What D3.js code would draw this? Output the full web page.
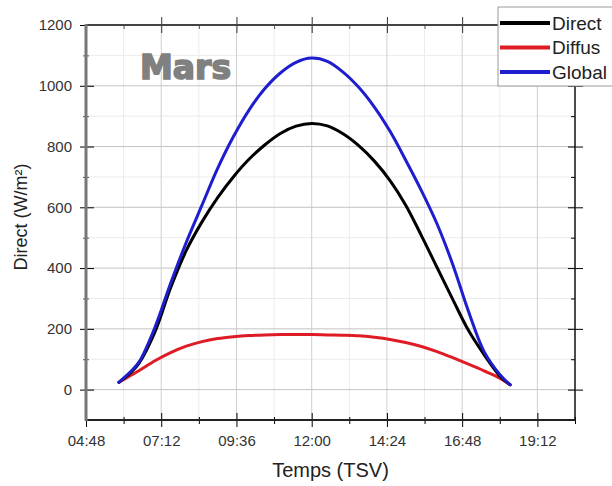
<!DOCTYPE html>
<html>
<head>
<meta charset="utf-8">
<script src="https://cdn.jsdelivr.net/npm/d3@7"></script>
<style>
  body { margin: 0; background: #fff; }
  svg { display: block; font-family: "Liberation Sans", Arial, sans-serif; }
</style>
</head>
<body>
<div id="chart"></div>
<script>
// solar time (decimal hours) and irradiance
const hours = [5.85, 6.25, 6.5, 7.0, 7.5, 8.0, 8.5, 9.0, 9.5, 10.0, 10.5, 11.0, 11.5, 12.0,
  12.5, 13.0, 13.5, 14.0, 14.5, 15.0, 15.5, 16.0, 16.5, 17.0, 17.5, 18.0, 18.33];
const direct = [24, 58, 88, 190, 335, 458, 552, 632, 700, 758, 805, 843, 867, 876,
  868, 842, 803, 752, 688, 607, 507, 402, 297, 195, 115, 45, 16];
const diffus = [24, 48, 63, 95, 122, 143, 158, 168, 174, 178, 180, 181, 181, 181,
  180, 179, 177, 172, 165, 155, 142, 125, 105, 84, 62, 38, 16];
const globalRad = [24, 62, 92, 205, 350, 485, 607, 728, 832, 920, 990, 1042, 1077, 1091,
  1080, 1045, 995, 930, 850, 755, 655, 545, 412, 258, 125, 50, 16];

const seriesNames = ["Direct", "Diffus", "Global"];
const xTickLabels = ["04:48", "07:12", "09:36", "12:00", "14:24", "16:48", "19:12"];
const yTicks = [0, 200, 400, 600, 800, 1000, 1200];
const monthLabel = "Mars";

const toHours = (s) => {
  let [h, m] = s.split(":").map(Number);
  return h + m / 60;
};

let width = 612,
  height = 486;

let frame = { left: 86, right: 575, top: 25, bottom: 420 },
  colors = { Direct: "#000000", Diffus: "#dd1c26", Global: "#1e1ecf" },
  tickColor = "#333";

const x = d3.scaleLinear().domain([4.8, 20.4]).range([frame.left, frame.right]);
const y = d3.scaleLinear().domain([-100, 1200]).range([frame.bottom, frame.top]);

const xMajor = xTickLabels.map(toHours);
const xMinor = xMajor.map(h => h + 1.2);
const yMinor = yTicks.slice(0, -1).map(v => v + 100);

const svg = d3.select("#chart")
  .append("svg")
  .attr("width", width)
  .attr("height", height);

// grid (minor first, then major)
const grid = svg.append("g");
grid.selectAll(".vminor").data(xMinor.filter(h => h < 20.4))
  .join("line")
  .attr("class", "vminor")
  .attr("x1", d => x(d)).attr("x2", d => x(d))
  .attr("y1", frame.top).attr("y2", frame.bottom)
  .attr("stroke", "#ebebeb");
grid.selectAll(".hminor").data(yMinor)
  .join("line")
  .attr("class", "hminor")
  .attr("x1", frame.left).attr("x2", frame.right)
  .attr("y1", d => y(d)).attr("y2", d => y(d))
  .attr("stroke", "#ebebeb");
grid.selectAll(".vmajor").data(xMajor.slice(1))
  .join("line")
  .attr("class", "vmajor")
  .attr("x1", d => x(d)).attr("x2", d => x(d))
  .attr("y1", frame.top).attr("y2", frame.bottom)
  .attr("stroke", "#cfcfcf");
grid.selectAll(".hmajor").data(yTicks.slice(0, -1))
  .join("line")
  .attr("class", "hmajor")
  .attr("x1", frame.left).attr("x2", frame.right)
  .attr("y1", d => y(d)).attr("y2", d => y(d))
  .attr("stroke", "#c4c4c4");

// curves
const series = [
  { name: "Diffus", values: diffus },
  { name: "Direct", values: direct },
  { name: "Global", values: globalRad },
];

const line = d3.line()
  .x((d, i) => x(hours[i]))
  .y(d => y(d))
  .curve(d3.curveCatmullRom.alpha(0.5));

svg.append("g")
  .selectAll("path")
  .data(series)
  .join("path")
  .attr("d", d => line(d.values))
  .attr("fill", "none")
  .attr("stroke", d => colors[d.name])
  .attr("stroke-width", 3)
  .attr("stroke-linejoin", "round")
  .attr("stroke-linecap", "round");

// axes: ticks cross the frame on all four sides
const bottomMajor = d3.axisBottom(x).tickValues(xMajor).tickSize(7)
  .tickFormat((d, i) => xTickLabels[i]);
const gBottom = svg.append("g")
  .attr("transform", `translate(0,${frame.bottom})`)
  .call(bottomMajor);
gBottom.selectAll(".tick line").attr("y1", -7);
gBottom.selectAll(".tick text")
  .attr("dy", "1.05em")
  .attr("fill", tickColor)
  .style("font-size", "15px");
gBottom.select(".domain").remove();

const gBottomMinor = svg.append("g")
  .attr("transform", `translate(0,${frame.bottom})`)
  .call(d3.axisBottom(x).tickValues(xMinor).tickSize(4).tickFormat(""));
gBottomMinor.selectAll(".tick line").attr("y1", -3);
gBottomMinor.select(".domain").remove();

const gLeft = svg.append("g")
  .attr("transform", `translate(${frame.left},0)`)
  .call(d3.axisLeft(y).tickValues(yTicks).tickSize(6).tickPadding(8).tickFormat(d3.format("d")));
gLeft.selectAll(".tick line").attr("x1", 8);
gLeft.selectAll(".tick text")
  .attr("fill", tickColor)
  .style("font-size", "15px");
gLeft.select(".domain").remove();

const gLeftMinor = svg.append("g")
  .attr("transform", `translate(${frame.left},0)`)
  .call(d3.axisLeft(y).tickValues(yMinor).tickSize(3).tickFormat(""));
gLeftMinor.selectAll(".tick line").attr("x1", 3).attr("stroke", "#555");
gLeftMinor.select(".domain").remove();

const gTop = svg.append("g")
  .attr("transform", `translate(0,${frame.top})`)
  .call(d3.axisTop(x).tickValues(xMajor.slice(1)).tickSize(8).tickFormat(""));
gTop.selectAll(".tick line").attr("y1", 8).attr("stroke", "#333");
gTop.select(".domain").remove();
const gTopMinor = svg.append("g")
  .attr("transform", `translate(0,${frame.top})`)
  .call(d3.axisTop(x).tickValues(xMinor).tickSize(0).tickFormat(""));
gTopMinor.selectAll(".tick line").attr("y2", 4).attr("stroke", "#555");
gTopMinor.select(".domain").remove();

const gRight = svg.append("g")
  .attr("transform", `translate(${frame.right},0)`)
  .call(d3.axisRight(y).tickValues(yTicks.slice(0, -1)).tickSize(8).tickFormat(""));
gRight.selectAll(".tick line").attr("x1", -7);
gRight.select(".domain").remove();
const gRightMinor = svg.append("g")
  .attr("transform", `translate(${frame.right},0)`)
  .call(d3.axisRight(y).tickValues(yMinor).tickSize(0).tickFormat(""));
gRightMinor.selectAll(".tick line").attr("x2", -4);
gRightMinor.select(".domain").remove();

// frame edges
svg.append("line")
  .attr("x1", frame.left).attr("x2", frame.right)
  .attr("y1", frame.top).attr("y2", frame.top)
  .attr("stroke", "#444").attr("stroke-width", 2);
svg.append("line")
  .attr("x1", frame.left).attr("x2", frame.right + 1)
  .attr("y1", frame.bottom).attr("y2", frame.bottom)
  .attr("stroke", "#222").attr("stroke-width", 2);
svg.append("line")
  .attr("x1", frame.right).attr("x2", frame.right)
  .attr("y1", frame.top).attr("y2", frame.bottom)
  .attr("stroke", "#111").attr("stroke-width", 1.5);
svg.append("line")
  .attr("x1", frame.left).attr("x2", frame.left)
  .attr("y1", frame.top - 1).attr("y2", frame.bottom + 1)
  .attr("stroke", "#777").attr("stroke-width", 3);

// axis titles
svg.append("text")
  .attr("x", (frame.left + frame.right) / 2)
  .attr("y", 477)
  .attr("text-anchor", "middle")
  .attr("fill", "#222")
  .style("font-size", "20px")
  .text("Temps (TSV)");

svg.append("text")
  .attr("transform", `translate(27,${217}) rotate(-90)`)
  .attr("text-anchor", "middle")
  .attr("fill", "#222")
  .style("font-size", "18px")
  .text("Direct (W/m²)");

// month label
svg.append("text")
  .attr("x", 140)
  .attr("y", 79)
  .attr("fill", "#808080")
  .attr("stroke", "#808080")
  .attr("stroke-width", 1.6)
  .style("font-family", "'DejaVu Sans', sans-serif")
  .style("font-weight", "bold")
  .style("font-size", "33px")
  .text(monthLabel);

// legend
const legend = svg.append("g").attr("transform", "translate(498,7)");
legend.append("rect")
  .attr("width", 125).attr("height", 79)
  .attr("fill", "#fff")
  .attr("stroke", "#999");
const items = legend.selectAll(".item")
  .data(seriesNames)
  .join("g")
  .attr("class", "item")
  .attr("transform", (d, i) => `translate(0,${16 + i * 24.5})`);
items.append("line")
  .attr("x1", 2).attr("x2", 52)
  .attr("stroke", d => colors[d])
  .attr("stroke-width", 4);
items.append("text")
  .attr("x", 54)
  .attr("dy", "0.35em")
  .attr("fill", "#222")
  .style("font-size", "19px")
  .text(d => d);
</script>
</body>
</html>
